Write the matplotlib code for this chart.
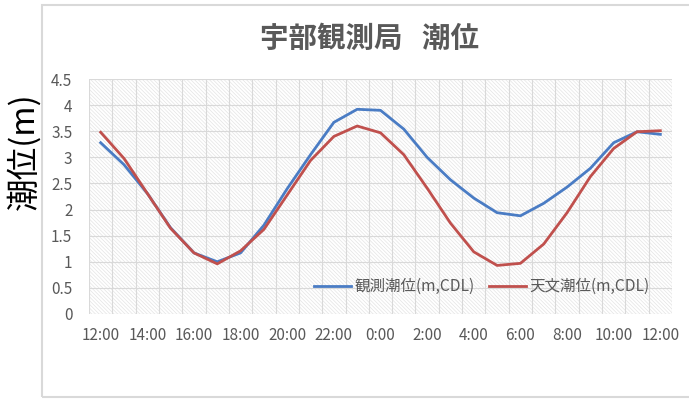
import matplotlib.pyplot as plt
import matplotlib.patches as patches
import numpy as np

plt.rcParams['font.family'] = ['Noto Sans CJK JP', 'DejaVu Sans']
plt.rcParams['hatch.linewidth'] = 0.5

# hourly data, 12:00 -> 12:00 next day
hours = ['12:00', '13:00', '14:00', '15:00', '16:00', '17:00', '18:00', '19:00',
         '20:00', '21:00', '22:00', '23:00', '0:00', '1:00', '2:00', '3:00',
         '4:00', '5:00', '6:00', '7:00', '8:00', '9:00', '10:00', '11:00', '12:00']
observed = [3.28, 2.86, 2.31, 1.65, 1.17, 1.00, 1.17, 1.70, 2.40, 3.05, 3.67, 3.92, 3.90,
            3.54, 3.00, 2.57, 2.22, 1.94, 1.88, 2.12, 2.43, 2.79, 3.28, 3.49, 3.44]
astronomical = [3.48, 2.98, 2.31, 1.64, 1.17, 0.96, 1.21, 1.62, 2.28, 2.94, 3.40, 3.60, 3.47,
                3.05, 2.41, 1.74, 1.19, 0.93, 0.97, 1.34, 1.94, 2.63, 3.17, 3.49, 3.51]
y_ticks = [0, 0.5, 1, 1.5, 2, 2.5, 3, 3.5, 4, 4.5]
y_labels = ['0', '0.5', '1', '1.5', '2', '2.5', '3', '3.5', '4', '4.5']

grey = '#595959'
grid = '#d9d9d9'

fig = plt.figure(figsize=(6.89, 4.0), dpi=100)
ax = fig.add_axes([89 / 689, 86 / 400, 583 / 689, 235 / 400])

# chart area border
fig.add_artist(patches.Rectangle((42 / 689, 3 / 400), 1.0, 392 / 400, transform=fig.transFigure,
                                 facecolor='none', edgecolor=grid, linewidth=1.5))

# hatched plot background
ax.patch.set_visible(False)
ax.add_patch(patches.Rectangle((0, 0), 1, 1, transform=ax.transAxes, facecolor='white',
                               edgecolor='#e4e4e4', hatch='\\' * 9, linewidth=0, zorder=0))

x = np.arange(len(hours))
ax.plot(x, observed, color='#4a7cc4', linewidth=2.0, label='観測潮位(m,CDL)', zorder=3)
ax.plot(x, astronomical, color='#c0504d', linewidth=2.0, label='天文潮位(m,CDL)', zorder=3)

ax.set_xlim(-0.5, len(hours) - 0.5)
ax.set_ylim(0, 4.5)
for b in np.arange(-0.5, len(hours), 1):
    ax.axvline(b, color=grid, linewidth=0.8, zorder=1)
for t in y_ticks:
    ax.axhline(t, color=grid, linewidth=0.8, zorder=1)

ax.set_xticks(x[::2])
ax.set_xticklabels(hours[::2], fontsize=11, color=grey)
ax.set_yticks(y_ticks)
ax.set_yticklabels(y_labels, fontsize=11, color=grey)
ax.tick_params(length=0, pad=9)
ax.tick_params(axis='y', pad=12)
for s in ax.spines.values():
    s.set_visible(False)

fig.text(369 / 689, 1 - 39 / 400, '宇部観測局   潮位', fontsize=20.5, color=grey,
         fontweight='bold', ha='center', va='center')
fig.text(24 / 689, 1 - 151 / 400, '潮位(m)', rotation=90, fontsize=23.5, color='black',
         ha='center', va='center')

leg = ax.legend(loc='lower right', bbox_to_anchor=(0.985, 0.02), ncol=2, frameon=False,
                fontsize=11.2, handlelength=2.4, columnspacing=0.9, handletextpad=0.2)
for t in leg.get_texts():
    t.set_color(grey)

fig.savefig('out.png', dpi=100)
